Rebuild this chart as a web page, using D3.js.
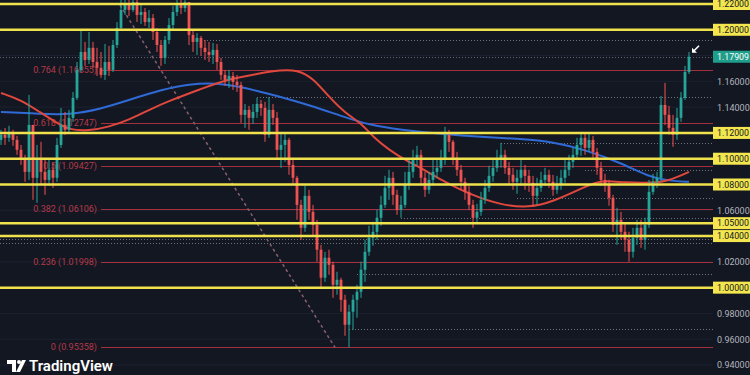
<!DOCTYPE html>
<html>
<head>
<meta charset="utf-8">
<script src="https://cdn.jsdelivr.net/npm/d3@7"></script>
<style>
  body { margin: 0; background: #131722; }
  svg { display: block; font-family: Roboto, "Noto Sans", sans-serif; }
</style>
</head>
<body>
<div id="chart"></div>
<script>
var svgWidth = 750;
var svgHeight = 375;
var plotRight = 713;

// candles (open = previous close)
var firstOpen = 1.1146;
var closes = [1.1185,1.1162,1.1208,1.1146,1.1069,1.1007,1.0898,1.1262,1.0852,1.0991,
  1.0898,1.0836,1.0914,1.0852,1.1107,1.1262,1.1224,1.1317,1.1472,1.1689,
  1.1828,1.1766,1.1860,1.1750,1.1705,1.1650,1.1750,1.1689,1.1882,1.2015,
  1.2154,1.2200,1.2154,1.2215,1.2115,1.2138,1.2060,1.2091,1.1983,1.1882,
  1.1782,1.1921,1.2037,1.2138,1.2192,1.2169,1.2215,1.1960,1.1906,1.1937,
  1.1860,1.1828,1.1805,1.1844,1.1750,1.1650,1.1611,1.1642,1.1596,1.1572,
  1.1340,1.1379,1.1317,1.1363,1.1425,1.1394,1.1185,1.1379,1.1317,1.1069,
  1.1107,1.1146,1.0952,1.0852,1.0642,1.0464,1.0712,1.0588,1.0487,1.0294,
  1.0077,1.0232,1.0177,1.0022,1.0061,0.9906,0.9712,0.9813,0.9906,0.9968,
  1.0139,1.0278,1.0387,1.0433,1.0542,1.0642,1.0774,1.0852,1.0720,1.0604,
  1.0642,1.0797,1.0898,1.0991,1.1030,1.0852,1.0759,1.0836,1.0898,1.0929,
  1.0991,1.1185,1.1131,1.1007,1.0914,1.0821,1.0743,1.0642,1.0542,1.0588,
  1.0681,1.0774,1.0867,1.0929,1.0991,1.1030,1.0929,1.0875,1.0821,1.0852,
  1.0914,1.0867,1.0813,1.0712,1.0774,1.0836,1.0875,1.0821,1.0759,1.0797,
  1.0852,1.0914,1.0976,1.1030,1.1107,1.1162,1.1084,1.1146,1.1053,1.0929,
  1.0836,1.0797,1.0697,1.0487,1.0526,1.0433,1.0371,1.0278,1.0387,1.0464,
  1.0371,1.0487,1.0743,1.0821,1.0852,1.1417,1.1340,1.1239,1.1185,1.1317,
  1.1472,1.1673,1.17909];
var highs = [1.1224,1.1239,1.1255,1.1224,1.1177,1.1107,1.1030,1.1495,1.1224,1.1107,
  1.1131,1.1007,1.0991,1.0967,1.1162,1.1394,1.1363,1.1379,1.1518,1.1750,
  1.1999,1.1906,1.1983,1.1906,1.1860,1.1828,1.1890,1.1875,1.1921,1.2060,
  1.2231,1.2270,1.2231,1.2277,1.2231,1.2192,1.2169,1.2154,1.2122,1.2014,
  1.1921,1.1952,1.2091,1.2185,1.2247,1.2262,1.2277,1.2200,1.1999,1.1975,
  1.1952,1.1921,1.1906,1.1898,1.1890,1.1782,1.1689,1.1689,1.1673,1.1650,
  1.1596,1.1425,1.1410,1.1425,1.1472,1.1456,1.1441,1.1479,1.1425,1.1363,
  1.1208,1.1208,1.1162,1.1007,1.0867,1.0681,1.0790,1.0759,1.0642,1.0526,
  1.0332,1.0278,1.0294,1.0201,1.0123,1.0077,0.9945,0.9867,0.9945,1.0022,
  1.0201,1.0371,1.0480,1.0511,1.0604,1.0712,1.0867,1.0914,1.0898,1.0759,
  1.0712,1.0898,1.0991,1.1069,1.1100,1.1069,1.0898,1.0898,1.0991,1.1007,
  1.1069,1.1247,1.1224,1.1146,1.1053,1.0952,1.0852,1.0790,1.0681,1.0650,
  1.0743,1.0836,1.0945,1.1007,1.1069,1.1123,1.1069,1.0976,1.0929,1.0914,
  1.0991,1.0952,1.0914,1.0867,1.0852,1.0898,1.0929,1.0914,1.0875,1.0867,
  1.0914,1.0991,1.1030,1.1084,1.1162,1.1200,1.1200,1.1193,1.1177,1.1084,
  1.0976,1.0883,1.0836,1.0720,1.0619,1.0588,1.0495,1.0433,1.0464,1.0526,
  1.0526,1.0542,1.0836,1.0883,1.0898,1.1487,1.1588,1.1410,1.1340,1.1394,
  1.1518,1.1720,1.1828];
var lows = [1.1107,1.1107,1.1131,1.1100,1.1030,1.0952,1.0821,1.0836,1.0681,1.0658,
  1.0797,1.0720,1.0790,1.0774,1.0821,1.1084,1.1185,1.1193,1.1286,1.1456,
  1.1673,1.1720,1.1735,1.1704,1.1642,1.1627,1.1611,1.1642,1.1673,1.1859,
  1.1999,1.2115,1.2107,1.2138,1.2060,1.2045,1.2030,1.2014,1.1921,1.1828,
  1.1720,1.1735,1.1890,1.1999,1.2107,1.2122,1.2138,1.1882,1.1828,1.1805,
  1.1797,1.1766,1.1750,1.1735,1.1689,1.1611,1.1565,1.1549,1.1534,1.1518,
  1.1278,1.1239,1.1224,1.1270,1.1317,1.1332,1.1131,1.1162,1.1262,1.0991,
  1.0929,1.0976,1.0875,1.0805,1.0526,1.0371,1.0433,1.0526,1.0394,1.0201,
  0.9999,1.0045,1.0100,0.9921,0.9945,0.9813,0.9627,0.9536,0.9674,0.9767,
  0.9921,1.0045,1.0247,1.0325,1.0371,1.0480,1.0619,1.0681,1.0642,1.0565,
  1.0542,1.0619,1.0759,1.0852,1.0945,1.0790,1.0704,1.0728,1.0790,1.0852,
  1.0898,1.0952,1.1053,1.0952,1.0867,1.0759,1.0681,1.0604,1.0464,1.0495,
  1.0557,1.0650,1.0743,1.0821,1.0898,1.0929,1.0883,1.0797,1.0759,1.0728,
  1.0790,1.0759,1.0743,1.0627,1.0642,1.0743,1.0790,1.0774,1.0712,1.0728,
  1.0759,1.0813,1.0867,1.0929,1.0991,1.1022,1.1030,1.1053,1.1007,1.0875,
  1.0790,1.0743,1.0635,1.0433,1.0332,1.0371,1.0278,1.0201,1.0232,1.0332,
  1.0309,1.0294,1.0464,1.0720,1.0774,1.0821,1.1262,1.1185,1.1092,1.1146,
  1.1286,1.1456,1.1657];

// moving averages: [candle index, price]
var blueMA = [[0,1.1363],[10,1.1348],[17,1.1340],[25,1.1386],[32,1.1456],[40,1.1534],
  [47,1.1580],[54,1.1588],[60,1.1557],[65,1.1518],[70,1.1479],[77,1.1417],[85,1.1332],
  [92,1.1262],[100,1.1224],[110,1.1193],[120,1.1169],[130,1.1154],[138,1.1131],
  [146,1.1069],[155,1.0968],[162,1.0859],[167,1.0828],[172,1.0821]];
var redMA = [[0,1.1510],[5,1.1456],[10,1.1355],[14,1.1278],[17,1.1224],[22,1.1216],
  [27,1.1247],[32,1.1301],[37,1.1379],[42,1.1448],[50,1.1541],[56,1.1611],[64,1.1658],
  [70,1.1689],[74,1.1689],[78,1.1627],[82,1.1479],[86,1.1355],[90,1.1278],[93,1.1169],
  [97,1.1069],[101,1.0991],[105,1.0929],[110,1.0836],[118,1.0712],[125,1.0642],
  [132,1.0619],[138,1.0666],[146,1.0782],[150,1.0836],[156,1.0813],[163,1.0813],
  [167,1.0828],[172,1.0898]];

// levels
var yellowLevels = [1.22, 1.20, 1.12, 1.10, 1.08, 1.05, 1.04, 1.00];
var fibRatios = ["0.764", "0.618", "0.5", "0.382", "0.236", "0"];
var fibPrices = [1.16855, 1.12747, 1.09427, 1.06106, 1.01998, 0.95358];
var dottedPrices = [1.1921, 1.1479, 1.1123, 1.0914, 1.0697, 1.0542, 1.0379, 1.0348, 1.0107, 0.9681];
var dottedStart = [50, 64, 125, 146, 129, 100, 0, 0, 89, 87];
var trendLine = [[29.75, 1.2192], [83.5, 0.9536]];
var axisTicks = [1.16, 1.14, 1.06, 1.02, 0.98, 0.96, 0.94];
var gridTicks = [1.22, 1.20, 1.18, 1.16, 1.14, 1.12, 1.10, 1.08, 1.06, 1.04, 1.02, 1.00, 0.98, 0.96, 0.94];
var lastPrice = 1.17909;

var svg = d3.select("#chart")
  .append("svg")
  .attr("width", svgWidth)
  .attr("height", svgHeight);

svg.append("rect").attr("width", svgWidth).attr("height", svgHeight).attr("fill", "#131722");

svg.append("clipPath").attr("id", "plot")
  .append("rect").attr("x", 0).attr("y", 0).attr("width", plotRight).attr("height", svgHeight);

var x = d3.scaleLinear().domain([0, closes.length - 1]).range([1, 689]);
var y = d3.scaleLinear().domain([0.94, 1.22]).range([365, 4]);

var plot = svg.append("g").attr("clip-path", "url(#plot)");

// faint grid
plot.selectAll(".grid")
  .data(gridTicks)
  .enter()
  .append("line")
  .attr("x1", 0).attr("x2", plotRight)
  .attr("y1", d => y(d)).attr("y2", d => y(d))
  .attr("stroke", "#1c2130")
  .attr("stroke-width", 1);

// dotted levels
plot.selectAll(".dot")
  .data(dottedPrices)
  .enter()
  .append("line")
  .attr("x1", (d, i) => dottedStart[i] ? x(dottedStart[i]) : 0)
  .attr("x2", plotRight)
  .attr("y1", d => Math.round(y(d)) + 0.5).attr("y2", d => Math.round(y(d)) + 0.5)
  .attr("stroke", "#8d909a")
  .attr("stroke-opacity", 0.75)
  .attr("stroke-dasharray", "1,2");

// last price line
plot.append("line")
  .attr("x1", 0).attr("x2", plotRight)
  .attr("y1", Math.round(y(lastPrice)) + 0.5).attr("y2", Math.round(y(lastPrice)) + 0.5)
  .attr("stroke", "#5d616b")
  .attr("stroke-dasharray", "1,2");

// fib lines
plot.selectAll(".fib")
  .data(fibPrices)
  .enter()
  .append("line")
  .attr("x1", 101).attr("x2", plotRight)
  .attr("y1", d => Math.round(y(d)) + 0.5).attr("y2", d => Math.round(y(d)) + 0.5)
  .attr("stroke", "#a3303f")
  .attr("stroke-width", 1);

plot.selectAll(".fibLabel")
  .data(fibPrices)
  .enter()
  .append("text")
  .attr("x", 97)
  .attr("y", d => y(d) + 3)
  .attr("text-anchor", "end")
  .attr("font-size", "9px")
  .attr("fill", "#b33a48")
  .text((d, i) => fibRatios[i] + " (" + d3.format(".5f")(d) + ")");

// dashed trend line
plot.append("line")
  .attr("x1", x(trendLine[0][0])).attr("y1", y(trendLine[0][1]))
  .attr("x2", x(trendLine[1][0])).attr("y2", y(trendLine[1][1]))
  .attr("stroke", "#86606c")
  .attr("stroke-width", 1.5)
  .attr("stroke-dasharray", "3,3");

// moving averages
var maLine = d3.line().x(d => x(d[0])).y(d => y(d[1])).curve(d3.curveBasis);
plot.append("path").attr("d", maLine(blueMA))
  .attr("fill", "none").attr("stroke", "#2f6ad6").attr("stroke-width", 2);
plot.append("path").attr("d", maLine(redMA))
  .attr("fill", "none").attr("stroke", "#e0483e").attr("stroke-width", 2);

// candles
var candles = closes.map(function(c, i) {
  var o = i === 0 ? firstOpen : closes[i - 1];
  return {
    i: i, o: o, c: c,
    h: Math.max(highs[i], o, c),
    l: Math.min(lows[i], o, c)
  };
});
var up = "#26a69a", down = "#ef5350";
var cg = plot.append("g");
cg.selectAll(".wick")
  .data(candles)
  .enter()
  .append("line")
  .attr("x1", d => x(d.i)).attr("x2", d => x(d.i))
  .attr("y1", d => y(d.h)).attr("y2", d => y(d.l))
  .attr("stroke", d => d.c >= d.o ? up : down)
  .attr("stroke-width", 1);
cg.selectAll(".body")
  .data(candles)
  .enter()
  .append("rect")
  .attr("x", d => x(d.i) - 1.4)
  .attr("width", 2.8)
  .attr("y", d => y(Math.max(d.o, d.c)))
  .attr("height", d => Math.max(1, Math.abs(y(d.o) - y(d.c))))
  .attr("fill", d => d.c >= d.o ? up : down);

// yellow support / resistance lines
plot.selectAll(".yl")
  .data(yellowLevels)
  .enter()
  .append("line")
  .attr("x1", 0).attr("x2", plotRight)
  .attr("y1", d => y(d)).attr("y2", d => y(d))
  .attr("stroke", "#f0e24c")
  .attr("stroke-width", 2.5);

// arrow near last candle
var arrowTip = [x(closes.length - 1) + 3, y(lastPrice) - 4];
svg.append("path")
  .attr("d", `M${arrowTip[0] + 7},${arrowTip[1] - 7} L${arrowTip[0] + 1},${arrowTip[1] - 1}`)
  .attr("stroke", "#ffffff").attr("stroke-width", 1.6);
svg.append("path")
  .attr("d", `M${arrowTip[0]},${arrowTip[1]} l0,-5 l5,5 z`)
  .attr("fill", "#ffffff");

// right price axis
var axis = svg.append("g")
  .attr("transform", `translate(${plotRight + 1},0)`)
  .call(d3.axisRight(y).tickValues(axisTicks).tickSize(0).tickPadding(3).tickFormat(d3.format(".5f")));
axis.select(".domain").remove();
axis.selectAll("text")
  .attr("fill", "#b2b5be")
  .attr("font-size", "9px")
  .attr("font-family", "Roboto, sans-serif");

var yl = svg.selectAll(".ylab")
  .data(yellowLevels)
  .enter()
  .append("g")
  .attr("transform", d => `translate(${plotRight},${y(d)})`);
yl.append("rect")
  .attr("x", 0).attr("y", -6).attr("width", svgWidth - plotRight).attr("height", 12)
  .attr("fill", "#f4e64e");
yl.append("text")
  .attr("x", 4).attr("y", 3.2)
  .attr("font-size", "8.8px")
  .attr("fill", "#131722")
  .text(d => d3.format(".5f")(d));

var lp = svg.append("g").attr("transform", `translate(${plotRight},${y(lastPrice)})`);
lp.append("rect")
  .attr("x", 0).attr("y", -6).attr("width", svgWidth - plotRight).attr("height", 12)
  .attr("fill", "#1f9e8c");
lp.append("text")
  .attr("x", 4).attr("y", 3.2)
  .attr("font-size", "8.8px")
  .attr("fill", "#ffffff")
  .text(d3.format(".5f")(lastPrice));

// TradingView logo
var logo = svg.append("g").attr("transform", "translate(7,360)");
logo.append("path").attr("d", "M0,0 H9 V12 H5 V4 H0 Z").attr("fill", "#ffffff");
logo.append("circle").attr("cx", 12).attr("cy", 2).attr("r", 2).attr("fill", "#ffffff");
logo.append("path").attr("d", "M15,0 H19 L13,12 H9 Z").attr("fill", "#ffffff");
svg.append("text")
  .attr("x", 29).attr("y", 371)
  .attr("font-size", "15px")
  .attr("font-weight", 600)
  .attr("font-family", "Roboto, sans-serif")
  .attr("fill", "#ffffff")
  .text("TradingView");
</script>
</body>
</html>
